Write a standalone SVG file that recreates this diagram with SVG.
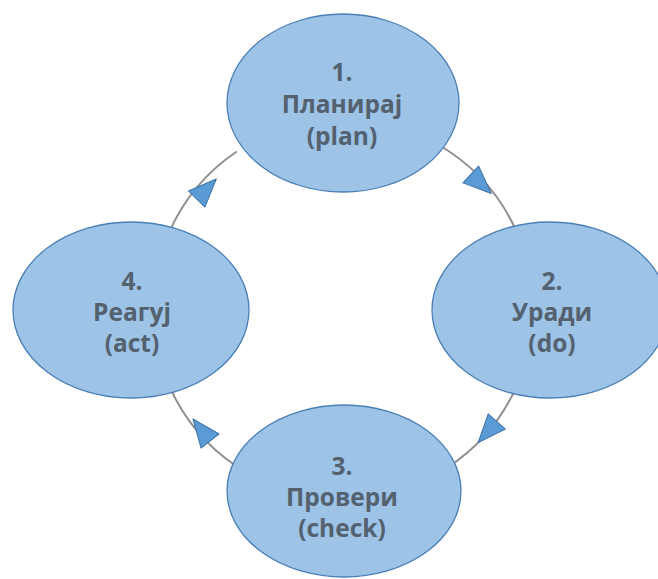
<svg xmlns="http://www.w3.org/2000/svg" width="658" height="579" viewBox="0 0 658 579">
  <defs>
    <style>
      .node { fill: #9dc3e6; stroke: #4a7fb5; stroke-width: 1.3; }
      .label { font-family: "Open Sans", "Liberation Sans", sans-serif; font-weight: bold; font-size: 24.5px; fill: #54616f; text-anchor: middle; }
      .link { fill: none; stroke: #8f8f8f; stroke-width: 2; }
      .head { fill: #5b9bd5; stroke: #3f73a8; stroke-width: 1; stroke-linejoin: round; }
    </style>
    <!-- arrowhead pointing along +x, centred on its origin -->
    <polygon id="arrowhead" class="head" points="14,0 -14,-11.5 -14,11.5"/>
  </defs>

  <!-- cycle arcs on a circle centred at (343,309), r=190 -->
  <g id="connectors">
    <path class="link" d="M438,144.5 A190,190 0 0 1 516.6,231.7"/>
    <path class="link" d="M516.6,386.3 A190,190 0 0 1 449.2,466.5"/>
    <path class="link" d="M236.8,466.5 A190,190 0 0 1 169.4,386.3"/>
    <path class="link" d="M169.4,231.7 A190,190 0 0 1 236.8,151.5"/>
    <use href="#arrowhead" transform="translate(481,184) rotate(43)"/>
    <use href="#arrowhead" transform="translate(487.5,432) rotate(131.5)"/>
    <use href="#arrowhead" transform="translate(201.5,430) rotate(232)"/>
    <use href="#arrowhead" transform="translate(206.5,189) rotate(-45.7)"/>
  </g>

  <g id="node-plan">
    <ellipse class="node" cx="343" cy="103" rx="116" ry="89"/>
    <text class="label" x="342" y="81">1.</text>
    <text class="label" x="342" y="113">Планирај</text>
    <text class="label" x="342" y="145">(plan)</text>
  </g>

  <g id="node-do">
    <ellipse class="node" cx="550" cy="310" rx="118" ry="88"/>
    <text class="label" x="552" y="290">2.</text>
    <text class="label" x="552" y="321">Уради</text>
    <text class="label" x="552" y="352">(do)</text>
  </g>

  <g id="node-check">
    <ellipse class="node" cx="344" cy="491" rx="117" ry="86"/>
    <text class="label" x="342" y="475">3.</text>
    <text class="label" x="342" y="506">Провери</text>
    <text class="label" x="342" y="537">(check)</text>
  </g>

  <g id="node-act">
    <ellipse class="node" cx="131" cy="310" rx="118" ry="88"/>
    <text class="label" x="132" y="290">4.</text>
    <text class="label" x="132" y="321">Реагуј</text>
    <text class="label" x="132" y="352">(act)</text>
  </g>
</svg>
